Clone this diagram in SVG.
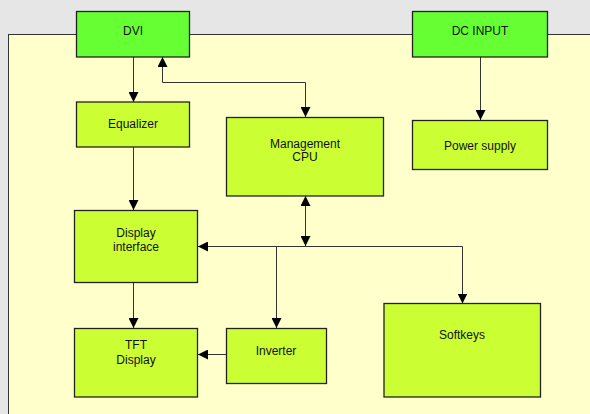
<svg xmlns="http://www.w3.org/2000/svg" width="590" height="414" viewBox="0 0 590 414">
<defs>
<marker id="ah" viewBox="0 0 10 10" refX="10" refY="5" markerWidth="10" markerHeight="10" markerUnits="userSpaceOnUse" orient="auto-start-reverse">
<path d="M0,0 L10,5 L0,10 z" fill="#000"/>
</marker>
<style>
.box{stroke:#222;stroke-width:1.3}
.lime{fill:#ccff33}
.green{fill:#66ff33}
.t{font-family:"Liberation Sans",Arial,sans-serif;font-size:12px;fill:#111;text-anchor:middle}
.c{fill:none;stroke:#333;stroke-width:1}
</style>
</defs>
<rect x="0" y="0" width="590" height="414" fill="#e6e6e6"/>
<rect x="8.5" y="34.5" width="600" height="400" fill="#ffffcc" stroke="#333" stroke-width="1"/>
<g id="connectors">
<path class="c" d="M133.5,57 V102" marker-end="url(#ah)"/>
<path class="c" d="M162.5,57 V82.5 H305.5 V117" marker-start="url(#ah)" marker-end="url(#ah)"/>
<path class="c" d="M480.5,57 V120" marker-end="url(#ah)"/>
<path class="c" d="M133.5,147 V210" marker-end="url(#ah)"/>
<path class="c" d="M305.5,196 V246" marker-start="url(#ah)" marker-end="url(#ah)"/>
<path class="c" d="M462.5,303.5 V246.5 H198" marker-start="url(#ah)" marker-end="url(#ah)"/>
<path class="c" d="M276.5,246.5 V328" marker-end="url(#ah)"/>
<path class="c" d="M133.5,282 V328" marker-end="url(#ah)"/>
<path class="c" d="M226,354.5 H198" marker-end="url(#ah)"/>
</g>
<g id="dvi"><rect class="box green" x="76.5" y="11.5" width="113" height="45.5"/><text class="t" x="133" y="34.5">DVI</text></g>
<g id="dcinput"><rect class="box green" x="412.5" y="11.5" width="135" height="45.5"/><text class="t" x="480" y="34.5">DC INPUT</text></g>
<g id="equalizer"><rect class="box lime" x="76.5" y="102" width="113" height="45"/><text class="t" x="133" y="128">Equalizer</text></g>
<g id="mgmt"><rect class="box lime" x="226.5" y="117.5" width="157" height="78.5"/><text class="t" x="305" y="148">Management</text><text class="t" x="305" y="161">CPU</text></g>
<g id="power"><rect class="box lime" x="412.5" y="120.5" width="135" height="49"/><text class="t" x="480" y="150">Power supply</text></g>
<g id="dispif"><rect class="box lime" x="74.5" y="210.5" width="123" height="72"/><text class="t" x="136" y="237">Display</text><text class="t" x="136" y="251">interface</text></g>
<g id="tft"><rect class="box lime" x="74.5" y="328.5" width="123" height="68.5"/><text class="t" x="136" y="349">TFT</text><text class="t" x="136" y="364">Display</text></g>
<g id="inverter"><rect class="box lime" x="226.5" y="328.5" width="100" height="55"/><text class="t" x="276" y="355">Inverter</text></g>
<g id="softkeys"><rect class="box lime" x="384" y="303.5" width="156.5" height="93.5"/><text class="t" x="462" y="339">Softkeys</text></g>
</svg>
